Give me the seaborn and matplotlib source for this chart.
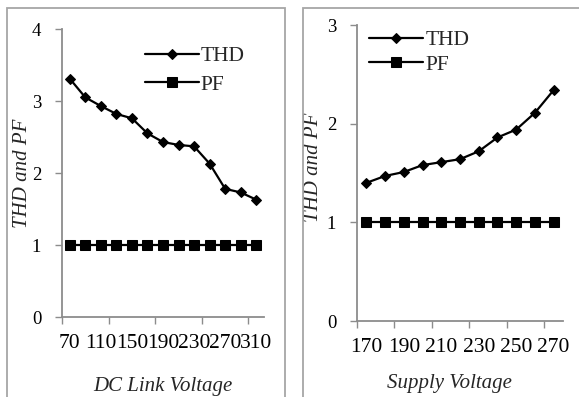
import matplotlib
matplotlib.use("Agg")
import matplotlib.pyplot as plt
import seaborn as sns
import pandas as pd
from matplotlib.patches import Rectangle

sns.set_theme(style="white")
plt.rcParams["font.family"] = ["Liberation Serif", "DejaVu Serif"]

# ----------------------------
# Data
# ----------------------------
dc_link_voltage = [str(v) for v in range(70, 311, 20)]
dc_thd = [3.31, 3.05, 2.93, 2.82, 2.76, 2.55, 2.43, 2.39, 2.37, 2.13, 1.78, 1.73, 1.63]
dc_pf = [1.0] * 13

supply_voltage = [str(v) for v in range(170, 271, 10)]
sup_thd = [1.40, 1.47, 1.51, 1.58, 1.61, 1.64, 1.72, 1.86, 1.94, 2.11, 2.34]
sup_pf = [1.0] * 11

GRAY = "#8c8c8c"
XTICK_FS = 15.5
YTICK_FS = 13.5
LABEL_FS = 15
LEGEND_FS = 15.5

fig = plt.figure(figsize=(5.79, 3.97), dpi=100)
W, H = 579, 397


def px_axes(x0, y0, x1, y1):
    # axes box from pixel coords (top-left origin)
    return fig.add_axes([x0 / W, 1 - y1 / H, (x1 - x0) / W, (y1 - y0) / H])


def draw_panel(ax, cats, thd, pf, ymax, label_step, tick_step, xlabel,
               ylab_pos, xlab_pos, leg_anchor, leg_spacing):
    df = pd.DataFrame({"V": cats, "THD": thd, "PF": pf})
    sns.lineplot(data=df, x="V", y="THD", sort=False, color="black", lw=1.6,
                 marker="D", markersize=5.6, markeredgecolor="black",
                 label="THD", ax=ax)
    sns.lineplot(data=df, x="V", y="PF", sort=False, color="black", lw=1.6,
                 marker="s", markersize=6.8, markeredgecolor="black",
                 label="PF", ax=ax)
    n = len(cats)
    ax.set_xlim(-0.5, n - 0.5)
    ax.set_ylim(0, ymax)
    ax.set_xticks(range(0, n, label_step))
    ax.set_xticklabels(cats[::label_step])
    ax.set_xticks([i - 0.5 for i in range(0, n, tick_step)], minor=True)
    ax.set_yticks(range(0, ymax + 1))
    ax.tick_params(axis="x", which="major", length=0, pad=12, labelsize=XTICK_FS,
                   colors="black")
    ax.tick_params(axis="x", which="minor", length=5, width=1, color=GRAY,
                   direction="out", bottom=True)
    ax.tick_params(axis="y", length=5, width=1, color=GRAY, direction="out",
                   left=True, pad=10, labelsize=YTICK_FS, labelcolor="black")
    for side in ["top", "right"]:
        ax.spines[side].set_visible(False)
    for side in ["left", "bottom"]:
        ax.spines[side].set_color(GRAY)
        ax.spines[side].set_linewidth(1.3)
    ax.set_xlabel(xlabel, fontsize=LABEL_FS, style="italic")
    ax.xaxis.set_label_coords(*xlab_pos)
    ax.set_ylabel("THD and PF", fontsize=LABEL_FS, style="italic")
    ax.yaxis.set_label_coords(*ylab_pos)
    ax.legend(loc="upper left", bbox_to_anchor=leg_anchor, frameon=False,
              fontsize=LEGEND_FS, handlelength=2.5, handletextpad=0.1,
              labelspacing=leg_spacing, borderpad=0, borderaxespad=0)
    ax.patch.set_alpha(0)


ax1 = px_axes(62, 29, 264, 317)
draw_panel(ax1, dc_link_voltage, dc_thd, dc_pf, 4, 2, 3, "DC Link Voltage",
           (-0.15, 0.5), (0.5, -0.21), (0.41, 0.94), 0.4)

ax2 = px_axes(357, 25, 563, 321)
draw_panel(ax2, supply_voltage, sup_thd, sup_pf, 3, 2, 2, "Supply Voltage",
           (-0.165, 0.52), (0.45, -0.18), (0.06, 0.982), 0.2)

# outer frames around each chart
fig.patches.append(Rectangle((7 / W, -0.02), (285 - 7) / W, (H - 8) / H + 0.02,
                             transform=fig.transFigure, fill=False,
                             edgecolor="#a6a6a6", lw=1.3))
fig.patches.append(Rectangle((303 / W, -0.02), (W - 303) / W + 0.02, (H - 8) / H + 0.02,
                             transform=fig.transFigure, fill=False,
                             edgecolor="#a6a6a6", lw=1.3))

fig.savefig("out.png", dpi=100)
